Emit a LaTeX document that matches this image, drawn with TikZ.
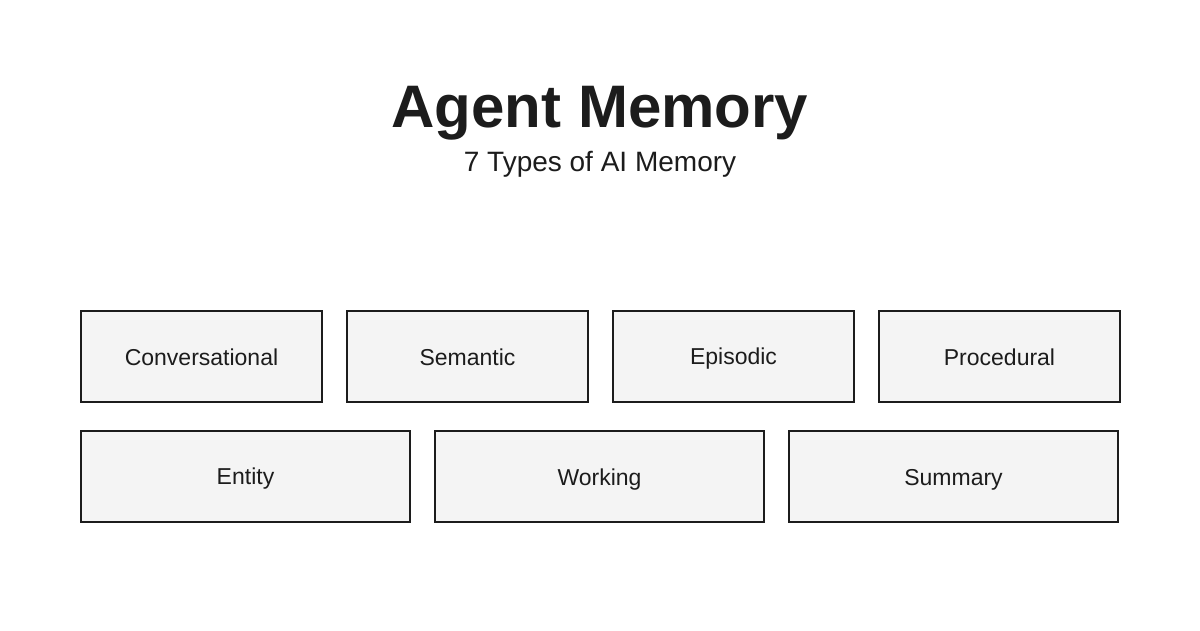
\documentclass[tikz,border=0pt]{standalone}
\usepackage{fontspec}
\setmainfont{Liberation Sans}
\definecolor{ink}{HTML}{1C1C1C}
\definecolor{boxfill}{HTML}{F4F4F4}
\begin{document}
\begin{tikzpicture}[x=1pt,y=-1pt,
  membox/.style={draw=ink, line width=2pt, fill=boxfill, rectangle, inner sep=0pt,
    text=ink, font=\fontsize{23}{26}\selectfont, text height=18.5pt, text depth=0pt},
  narrowbox/.style={membox, minimum width=241pt, minimum height=91pt},
  widebox/.style={membox, minimum width=329pt, minimum height=91pt},
  title/.style={text=ink, inner sep=0pt, anchor=base}]
\useasboundingbox (0,0) rectangle (1200,630);
\fill[white] (0,0) rectangle (1200,630);
\node[title, font=\fontsize{60}{66}\selectfont\bfseries] (t) at (600,127) {Agent Memory};
\node[title, font=\fontsize{28}{32}\selectfont] (st) at (600,171) {7 Types of AI Memory};
% row 1
\node[narrowbox] (conv) at (201.5,356.5) {Conversational};
\node[narrowbox] (sem) at (467.5,356.5) {Semantic};
\node[narrowbox, text depth=3.5pt] (epi) at (733.5,356.5) {Episodic};
\node[narrowbox] (proc) at (999.5,356.5) {Procedural};
% row 2
\node[widebox, text depth=2pt] (ent) at (245.5,476.5) {Entity};
\node[widebox] (work) at (599.5,476.5) {Working};
\node[widebox] (sum) at (953.5,476.5) {Summary};
\end{tikzpicture}
\end{document}
